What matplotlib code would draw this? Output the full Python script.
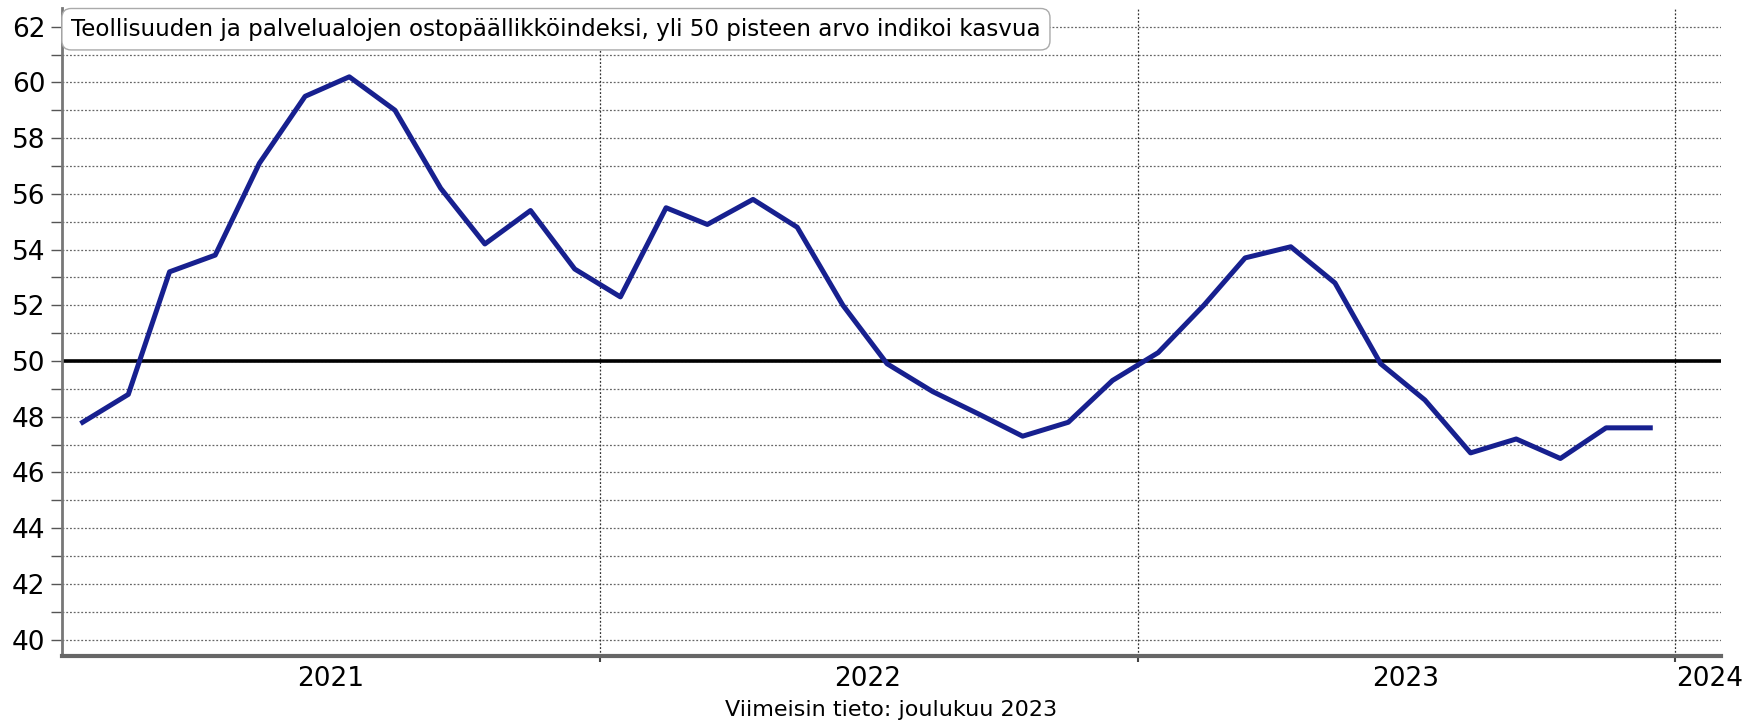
import numpy as np
import pandas as pd
import matplotlib
matplotlib.use('Agg')
import matplotlib.pyplot as plt

# monthly index, Jan 2021 - Dec 2023
months = pd.date_range('2021-01-01', '2023-12-01', freq='MS') + pd.Timedelta(days=14)
pmi = [47.8, 48.8, 53.2, 53.8, 57.1, 59.5, 60.2, 59.0, 56.2, 54.2, 55.4, 53.3,
       52.3, 55.5, 54.9, 55.8, 54.8, 52.0, 49.9, 48.9, 48.1, 47.3, 47.8, 49.3,
       50.3, 52.0, 53.7, 54.1, 52.8, 49.9, 48.6, 46.7, 47.2, 46.5, 47.6, 47.6]

year_labels = ['2021', '2022', '2023', '2024']
label_dates = pd.to_datetime(['2021-07-02', '2022-07-02', '2023-07-02', '2024-01-24'])
year_starts = pd.to_datetime(['2022-01-01', '2023-01-01', '2024-01-01'])

title = 'Teollisuuden ja palvelualojen ostopäällikköindeksi, yli 50 pisteen arvo indikoi kasvua'
caption = 'Viimeisin tieto: joulukuu 2023'

plt.rcParams['font.family'] = ['DejaVu Sans']

fig = plt.figure(figsize=(17.5, 7.23), dpi=100)
ax = fig.add_axes([62 / 1750, 67 / 723, (1721 - 62) / 1750, (715 - 67) / 723])

# horizontal grid every 1 point
for v in np.arange(40, 63, 1):
    ax.axhline(v, color='#666666', lw=0.9, ls=(0, (1.5, 1.5)), zorder=1)
for d in year_starts:
    ax.axvline(d, color='#333333', lw=0.9, ls=(0, (1.5, 1.5)), zorder=1)

ax.axhline(50, color='black', lw=2.6, zorder=2)
ax.plot(months, pmi, color='#17208f', lw=3.6, zorder=3)

ax.set_xlim(pd.Timestamp('2021-01-01'), pd.Timestamp('2024-02-01'))
ax.set_ylim(39.41, 62.67)

ax.set_yticks(np.arange(40, 63, 2))
ax.set_yticks(np.arange(41, 63, 2), minor=True)
ax.tick_params(axis='y', which='both', length=8, width=1, color='#555555',
               labelsize=19, pad=4)

ax.set_xticks(label_dates)
ax.set_xticklabels(year_labels)
ax.set_xticks(year_starts, minor=True)
ax.tick_params(axis='x', which='major', length=0, labelsize=19, pad=7)
ax.tick_params(axis='x', which='minor', length=4, width=1.5, color='#444444')

for s in ['top', 'right']:
    ax.spines[s].set_visible(False)
ax.spines['left'].set_color('#777777')
ax.spines['left'].set_linewidth(2)
ax.spines['bottom'].set_color('#666666')
ax.spines['bottom'].set_linewidth(3)

ax.text(0.0055, 0.985, title, transform=ax.transAxes, ha='left', va='top',
        fontsize=16.6, zorder=5,
        bbox=dict(boxstyle='round,pad=0.4,rounding_size=0.4', fc='white',
                  ec='#aaaaaa', lw=1))

fig.text((62 + 1721) / 2 / 1750, 1 - 710 / 723, caption, ha='center',
         va='center', fontsize=16)

fig.savefig('out.png', dpi=100)
